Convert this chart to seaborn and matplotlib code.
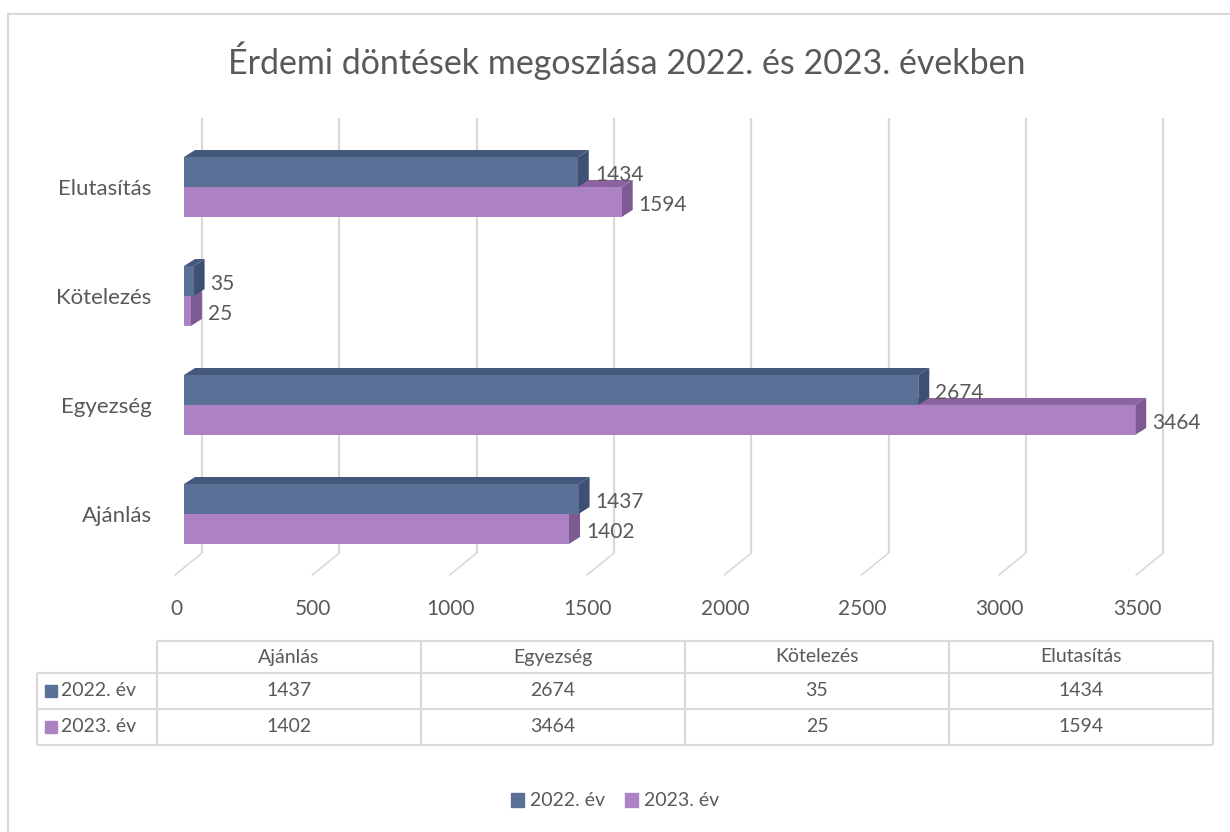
import numpy as np
import pandas as pd
import seaborn as sns
import matplotlib.pyplot as plt
import matplotlib.transforms as mtrans
from matplotlib.patches import Polygon, Rectangle, Patch
from matplotlib.lines import Line2D

# adatok
kategoriak = ["Ajánlás", "Egyezség", "Kötelezés", "Elutasítás"]
evek = ["2022. év", "2023. év"]
ertek_2022 = [1437, 2674, 35, 1434]
ertek_2023 = [1402, 3464, 25, 1594]
x_tickek = [0, 500, 1000, 1500, 2000, 2500, 3000, 3500]
cim = "Érdemi döntések megoszlása 2022. és 2023. években"

# színek
szinek = ["#5b7097", "#ad82c5"]
oldal_szinek = ["#3e5174", "#7d5a91"]
teteje_szinek = ["#44587d", "#8b63a1"]
szurke = "#d9d9d9"
szoveg = "#595959"

sns.set_theme(style="white")
plt.rcParams["font.family"] = ["Lato", "DejaVu Sans"]

df = pd.DataFrame({
    "kategoria": kategoriak * 2,
    "ev": [evek[0]] * len(kategoriak) + [evek[1]] * len(kategoriak),
    "ertek": ertek_2022 + ertek_2023,
})

W, H, DPI = 1230, 832, 100
fig = plt.figure(figsize=(W / DPI, H / DPI), dpi=DPI)


def px(x0, y0, x1, y1):
    # pixel doboz -> figure arány
    return [x0 / W, 1 - y1 / H, (x1 - x0) / W, (y1 - y0) / H]


ax = fig.add_axes(px(160, 118, 1180, 575))
sns.barplot(data=df, y="kategoria", x="ertek", hue="ev", order=kategoriak[::-1],
            hue_order=evek, palette=szinek, width=0.55, orient="y", ax=ax,
            legend=False, saturation=1, edgecolor="none", linewidth=0, zorder=3)

egyseg = 0.2746  # pixel / érték
ax.set_xlim(-24 / egyseg, (1180 - 184) / egyseg)
ax.set_ylim(3.56, -0.633)
ax.set_xlabel("")
ax.set_ylabel("")
for s in ax.spines.values():
    s.set_visible(False)
ax.set_xticks(x_tickek)
ax.tick_params(axis="x", length=0, labelsize=15, labelcolor=szoveg, pad=17)
ax.tick_params(axis="y", length=0, labelsize=16, labelcolor=szoveg, pad=6)
for lab in ax.get_xticklabels():
    lab.set_transform(lab.get_transform() + mtrans.ScaledTranslation(-8 / DPI, 0, fig.dpi_scale_trans))

# hátsó fal rácsvonalai
hatul = ax.get_xaxis_transform() + mtrans.ScaledTranslation(18 / DPI, 0, fig.dpi_scale_trans)
elol = ax.get_xaxis_transform() + mtrans.ScaledTranslation(-9 / DPI, 0, fig.dpi_scale_trans)
ax.vlines(x_tickek, 0.048, 1, transform=hatul, color=szurke, lw=1.6, zorder=1)
for t in x_tickek:
    p1 = hatul.transform((t, 0.048))
    p2 = elol.transform((t, 0))
    ax.add_line(Line2D([p1[0], p2[0]], [p1[1], p2[1]], transform=mtrans.IdentityTransform(),
                       color=szurke, lw=1.2, zorder=1, clip_on=False))

# 3D hatás: tető és oldallap
dx, dy = 11, 7
for i in [1, 0]:
    for bar in ax.containers[i]:
        pts = ax.transData.transform(bar.get_bbox().get_points())
        l, r = pts[:, 0].min(), pts[:, 0].max()
        b, t = pts[:, 1].min(), pts[:, 1].max()
        teto = [(l, t), (r, t), (r + dx, t + dy), (l + dx, t + dy)]
        oldal = [(r, b), (r, t), (r + dx, t + dy), (r + dx, b + dy)]
        for poly, c in [(teto, teteje_szinek[i]), (oldal, oldal_szinek[i])]:
            ax.add_patch(Polygon(poly, closed=True, facecolor=c, edgecolor="none",
                                 transform=mtrans.IdentityTransform(), zorder=2, clip_on=False))

# adatcímkék
for i in range(len(evek)):
    for bar in ax.containers[i]:
        v = int(round(bar.get_width()))
        ax.annotate(str(v), xy=(bar.get_x() + bar.get_width(), bar.get_y() + bar.get_height() / 2),
                    xytext=(17, -3), textcoords="offset pixels", ha="left", va="center",
                    fontsize=15, color=szoveg, zorder=5)

# keret, táblázat, cím
lay = fig.add_axes([0, 0, 1, 1], zorder=-1)
lay.set_xlim(0, W)
lay.set_ylim(H, 0)
lay.axis("off")
lay.plot([8, W], [14, 14], color=szurke, lw=1.5)
lay.plot([8, 8], [14, H], color=szurke, lw=1.5)

fig.text(627 / W, 1 - 61 / H, cim, ha="center", va="center", fontsize=24.5, color=szoveg)

tx0, tx1, cimke_x = 37, 1213, 157
sor_y = [641, 673, 709, 745]
oszlop_x = np.linspace(cimke_x, tx1, len(kategoriak) + 1)
lay.hlines(sor_y[0], cimke_x, tx1, color=szurke, lw=1.5)
lay.hlines(sor_y[1:], tx0, tx1, color=szurke, lw=1.5)
lay.vlines(tx0, sor_y[1], sor_y[-1], color=szurke, lw=1.5)
lay.vlines(oszlop_x, sor_y[0], sor_y[-1], color=szurke, lw=1.5)
for j, k in enumerate(kategoriak):
    cx = (oszlop_x[j] + oszlop_x[j + 1]) / 2
    lay.text(cx, (sor_y[0] + sor_y[1]) / 2, k, ha="center", va="center", fontsize=14, color=szoveg)
for i, (ev, ertekek) in enumerate(zip(evek, [ertek_2022, ertek_2023])):
    cy = (sor_y[i + 1] + sor_y[i + 2]) / 2
    lay.add_patch(Rectangle((45, cy - 6), 12, 12, color=szinek[i]))
    lay.text(61, cy, ev, ha="left", va="center", fontsize=14, color=szoveg)
    for j, v in enumerate(ertekek):
        cx = (oszlop_x[j] + oszlop_x[j + 1]) / 2
        lay.text(cx, cy, str(v), ha="center", va="center", fontsize=14, color=szoveg)

fig.legend(handles=[Patch(color=c, label=e) for c, e in zip(szinek, evek)],
           loc="center", bbox_to_anchor=(0.5, 1 - 801 / H), ncol=2, frameon=False,
           fontsize=14, labelcolor=szoveg, handlelength=0.7, handleheight=0.7,
           handletextpad=0.3, columnspacing=1.0)

fig.savefig("out.png", dpi=DPI)
